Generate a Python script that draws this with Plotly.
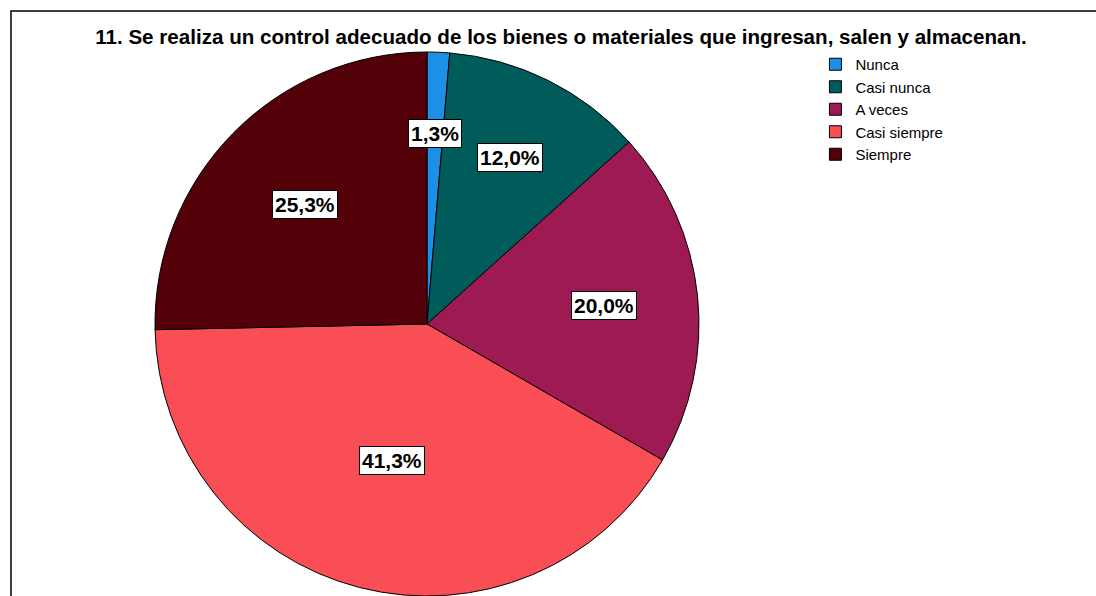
import math
import plotly.graph_objects as go

# ---- data ----
categories = ["Nunca", "Casi nunca", "A veces", "Casi siempre", "Siempre"]
counts = [1, 9, 15, 31, 19]
colors = ["#1e8fe6", "#005b5b", "#9d1a52", "#fa4e56", "#540008"]
title_text = "11. Se realiza un control adecuado de los bienes o materiales que ingresan, salen y almacenan."

W, H = 1096, 596
R = 272            # pie radius in px
CX, CY = 427, 324  # pie centre in px (from top-left)
FONT = "Arial, Liberation Sans, sans-serif"

total = sum(counts)
pct = [c / total * 100 for c in counts]
labels_txt = [f"{p:.1f}%".replace(".", ",") for p in pct]

fig = go.Figure()
fig.add_trace(go.Pie(
    labels=categories,
    values=counts,
    sort=False,
    direction="clockwise",
    rotation=0,
    marker=dict(colors=colors, line=dict(color="#000000", width=1)),
    textinfo="none",
    hoverinfo="label+percent",
    domain=dict(x=[(CX - R) / W, (CX + R) / W], y=[0, 2 * R / H]),
    showlegend=True,
))

# boxed percentage labels at each sector's centroid
annotations = []
cum = 0.0
for c, t in zip(counts, labels_txt):
    frac = c / total
    mid = (cum + frac / 2) * 2 * math.pi
    half = frac * math.pi
    d = (2.0 / 3.0) * math.sin(half) / half * R * 1.05
    px = CX + d * math.sin(mid)
    py = CY - d * math.cos(mid)
    annotations.append(dict(
        x=px / W, y=1 - py / H, xref="paper", yref="paper",
        text=f"<b>{t}</b>", showarrow=False,
        font=dict(family=FONT, size=21, color="#000000"),
        bgcolor="#ffffff", bordercolor="#000000", borderwidth=1, borderpad=2,
        xanchor="center", yanchor="middle",
    ))
    cum += frac

fig.update_layout(
    width=W, height=H,
    margin=dict(l=0, r=0, t=0, b=0),
    paper_bgcolor="#ffffff",
    plot_bgcolor="#ffffff",
    title=dict(
        text=f"<b>{title_text}</b>",
        x=561 / W, xanchor="center",
        y=1 - 37 / H, yanchor="middle",
        xref="paper", yref="container",
        font=dict(family=FONT, size=20.6, color="#000000"),
    ),
    legend=dict(
        x=0.744, xanchor="left", y=1 - 48 / H, yanchor="top",
        font=dict(family=FONT, size=15, color="#000000"),
        bgcolor="rgba(0,0,0,0)", borderwidth=0,
        itemclick=False, itemdoubleclick=False,
    ),
    annotations=annotations,
    shapes=[dict(
        type="rect", xref="paper", yref="paper",
        x0=11 / W, x1=1.02, y0=-0.02, y1=1 - 11 / H,
        line=dict(color="#000000", width=1.5), fillcolor="rgba(0,0,0,0)",
        layer="above",
    )],
)

fig.write_html(
    "out.html",
    config={"displayModeBar": False},
    post_script="document.body.style.margin='0px';document.body.style.overflow='hidden';",
)
